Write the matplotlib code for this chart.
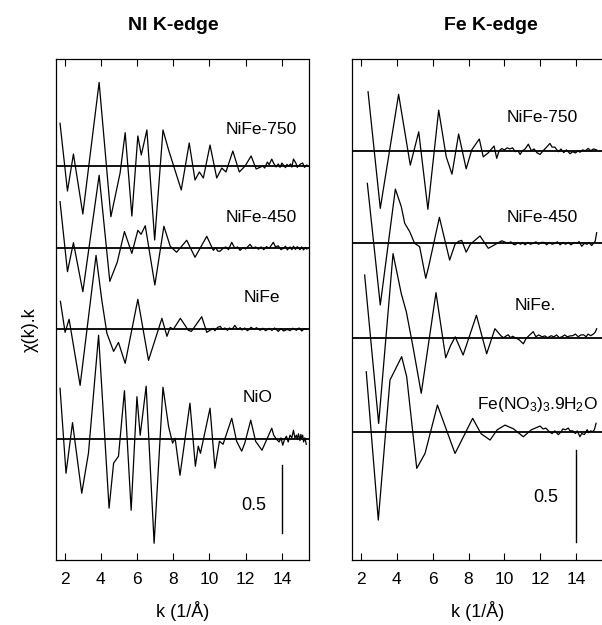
import matplotlib
matplotlib.use("Agg")
import matplotlib.pyplot as plt

plt.rcParams['font.family'] = ['Liberation Sans', 'DejaVu Sans']
plt.rcParams['mathtext.fontset'] = 'custom'
plt.rcParams['mathtext.rm'] = 'Liberation Sans'
plt.rcParams['mathtext.it'] = 'Liberation Sans:italic'

# ---------------- data: Ni K-edge (chi(k)*k, offset applied at plot time) -----
ni_labels = ["NiFe-750", "NiFe-450", "NiFe", "NiO"]
ni_offsets = [2.897, 2.292, 1.696, 0.888]

ni_k_750 = [1.74, 2.15, 2.48, 3.00, 3.90, 4.55, 5.06, 5.34, 5.71, 6.04, 6.23, 6.54, 6.97,
            7.43, 7.74, 8.02, 8.44, 8.88, 9.20, 9.44, 9.66, 10.03, 10.40, 10.68, 10.91,
            11.29, 11.65, 11.97, 12.30, 12.58, 12.95, 13.05, 13.20, 13.30, 13.44, 13.55,
            13.68, 13.80, 13.90, 14.00, 14.10, 14.20, 14.28, 14.37, 14.48, 14.55, 14.64,
            14.78, 14.85, 14.92, 15.03, 15.15, 15.25, 15.38]
ni_y_750 = [0.314, -0.184, 0.088, -0.353, 0.615, -0.373, -0.051, 0.245, -0.368, 0.221,
            0.081, 0.265, -0.544, 0.265, 0.118, 0.000, -0.176, 0.169, -0.103, -0.044,
            -0.088, 0.154, -0.088, -0.015, -0.044, 0.110, -0.044, 0.000, 0.074, -0.022,
            0.000, -0.015, 0.029, 0.010, 0.051, 0.020, -0.007, 0.015, -0.010, 0.022,
            0.005, -0.012, 0.012, 0.000, 0.015, -0.008, 0.051, 0.020, -0.010, 0.000,
            0.015, 0.022, -0.010, 0.007]

ni_k_450 = [1.74, 2.15, 2.48, 3.00, 3.90, 4.49, 4.90, 5.30, 5.71, 6.04, 6.22, 6.45, 6.98,
            7.48, 7.83, 8.18, 8.74, 9.20, 9.85, 10.21, 10.35, 10.45, 10.58, 10.75, 10.90,
            11.05, 11.23, 11.40, 11.55, 11.69, 11.85, 12.00, 12.24, 12.40, 12.55, 12.70,
            12.85, 13.00, 13.15, 13.30, 13.53, 13.65, 13.80, 13.95, 14.09, 14.20, 14.30,
            14.45, 14.55, 14.64, 14.75, 14.85, 15.00, 15.10, 15.20, 15.29, 15.38]
ni_y_450 = [0.343, -0.172, 0.041, -0.319, 0.537, -0.243, -0.103, 0.123, -0.037, 0.132,
            0.103, 0.166, -0.270, 0.162, 0.015, -0.029, 0.059, -0.066, 0.088, -0.015,
            0.005, -0.020, -0.022, 0.000, 0.010, -0.010, 0.044, 0.000, 0.010, -0.015,
            0.005, -0.005, 0.029, 0.000, 0.010, -0.007, 0.010, -0.010, 0.012, 0.000,
            0.044, 0.010, 0.018, -0.010, 0.000, 0.015, -0.012, 0.010, -0.010, 0.015,
            -0.008, 0.012, -0.010, 0.010, -0.012, 0.007, -0.005]

ni_k_nife = [1.76, 2.02, 2.24, 2.85, 3.73, 4.05, 4.33, 4.70, 4.97, 5.34, 6.04, 6.63, 7.37,
             7.65, 7.83, 8.00, 8.39, 8.83, 9.00, 9.57, 9.85, 10.05, 10.20, 10.30, 10.45,
             10.60, 10.70, 10.85, 11.00, 11.10, 11.25, 11.40, 11.55, 11.70, 11.80, 11.95,
             12.10, 12.30, 12.45, 12.60, 12.80, 12.95, 13.10, 13.30, 13.45, 13.60, 13.80,
             13.95, 14.10, 14.30, 14.45, 14.60, 14.80, 14.95, 15.10, 15.25, 15.35]
ni_y_nife = [0.206, -0.022, 0.074, -0.412, 0.544, 0.213, -0.029, -0.162, -0.096, -0.250,
             0.221, -0.228, 0.081, -0.051, 0.015, 0.000, 0.081, -0.007, -0.015, 0.093,
             -0.022, -0.005, 0.007, -0.010, 0.015, 0.022, 0.000, 0.010, -0.007, 0.010,
             0.000, 0.029, 0.000, 0.012, -0.005, 0.010, -0.010, 0.015, 0.000, 0.012,
             -0.007, 0.008, -0.010, 0.007, -0.008, 0.010, -0.015, 0.005, -0.012, 0.000,
             -0.010, 0.008, -0.007, 0.010, -0.012, 0.005, 0.000]

ni_k_nio = [1.74, 2.07, 2.43, 2.94, 3.31, 3.87, 4.45, 4.70, 4.97, 5.30, 5.67, 5.99, 6.17,
            6.50, 6.94, 7.43, 7.74, 7.96, 8.10, 8.37, 8.92, 9.22, 9.38, 9.50, 10.03, 10.30,
            10.55, 10.75, 11.23, 11.50, 11.78, 11.95, 12.28, 12.55, 12.90, 13.44, 13.55,
            13.70, 13.85, 13.95, 14.05, 14.15, 14.25, 14.35, 14.45, 14.55, 14.64, 14.72,
            14.80, 14.85, 14.92, 15.00, 15.05, 15.10, 15.15, 15.20, 15.27, 15.35]
ni_y_nio = [0.375, -0.250, 0.122, -0.397, -0.103, 0.765, -0.507, -0.176, -0.125, 0.357,
            -0.522, 0.313, 0.029, 0.390, -0.765, 0.382, 0.093, -0.029, 0.007, -0.265,
            0.265, -0.199, -0.051, -0.103, 0.228, -0.213, -0.015, -0.037, 0.154, -0.015,
            -0.088, -0.029, 0.140, -0.015, -0.081, 0.081, 0.030, 0.000, -0.020, 0.010,
            -0.044, 0.000, 0.022, -0.020, 0.030, 0.010, 0.066, 0.010, 0.030, 0.000,
            0.040, -0.010, 0.035, 0.000, 0.030, -0.020, 0.010, -0.037]

# ---------------- data: Fe K-edge -----------------------------------------------
fe_labels = ["NiFe-750", "NiFe-450", "NiFe.", "Fe(NO$_3$)$_3$.9H$_2$O"]
fe_offsets = [2.224, 1.721, 1.208, 0.697]

fe_k_750 = [2.41, 3.09, 4.11, 4.76, 5.23, 5.74, 6.34, 6.76, 7.08, 7.45, 7.87, 8.18, 8.60,
            8.82, 9.10, 9.42, 9.57, 9.70, 9.85, 10.00, 10.15, 10.30, 10.45, 10.60, 10.75,
            10.87, 11.00, 11.15, 11.33, 11.50, 11.65, 11.80, 11.98, 12.15, 12.30, 12.53,
            12.65, 12.80, 13.00, 13.15, 13.30, 13.45, 13.65, 13.80, 13.95, 14.10, 14.20,
            14.35, 14.50, 14.66, 14.80, 14.95, 15.13]
fe_y_750 = [0.321, -0.313, 0.307, -0.078, 0.103, -0.318, 0.221, -0.033, -0.127, 0.091,
            -0.098, 0.005, 0.064, -0.033, -0.011, 0.026, -0.041, 0.000, 0.012, 0.005,
            0.016, 0.010, 0.016, -0.005, 0.000, -0.020, 0.000, 0.010, 0.036, 0.000,
            0.010, -0.010, -0.020, 0.000, 0.015, 0.040, 0.020, 0.020, -0.005, 0.010,
            -0.010, 0.005, -0.016, -0.005, -0.012, 0.000, -0.008, 0.005, 0.000, 0.013,
            0.000, 0.010, 0.005]

fe_k_450 = [2.37, 3.09, 3.93, 4.26, 4.45, 4.73, 5.00, 5.28, 5.62, 5.78, 6.38, 6.95, 7.25,
            7.45, 7.62, 7.87, 8.10, 8.64, 9.10, 9.40, 9.85, 10.20, 10.35, 10.50, 10.60,
            10.75, 10.90, 11.00, 11.15, 11.30, 11.45, 11.60, 11.75, 11.90, 12.05, 12.20,
            12.35, 12.50, 12.65, 12.80, 12.95, 13.10, 13.25, 13.40, 13.55, 13.70, 13.90,
            14.05, 14.15, 14.30, 14.45, 14.60, 14.70, 14.85, 14.95, 15.05, 15.13]
fe_y_450 = [0.326, -0.335, 0.295, 0.199, 0.109, 0.063, 0.000, -0.018, -0.190, -0.127,
            0.141, -0.091, -0.005, 0.011, 0.016, -0.048, -0.005, 0.040, -0.027, -0.011,
            0.014, 0.000, 0.008, -0.005, -0.008, 0.005, -0.005, 0.005, -0.008, 0.005,
            -0.005, 0.000, 0.008, -0.005, 0.005, 0.005, -0.008, 0.005, -0.005, 0.000,
            0.008, -0.008, 0.005, -0.005, 0.005, -0.008, 0.005, 0.000, 0.010, -0.016,
            0.000, -0.005, 0.005, -0.012, 0.000, 0.012, 0.058]

fe_k_nife = [2.22, 3.00, 3.80, 4.26, 4.54, 4.91, 5.37, 6.19, 6.73, 7.00, 7.26, 7.70, 8.44,
             9.01, 9.47, 9.80, 9.95, 10.10, 10.20, 10.35, 10.45, 10.60, 10.80, 11.05,
             11.20, 11.35, 11.60, 11.75, 11.90, 12.10, 12.25, 12.40, 12.60, 12.75, 12.90,
             13.05, 13.20, 13.35, 13.50, 13.65, 13.80, 13.95, 14.10, 14.25, 14.40, 14.55,
             14.65, 14.80, 14.95, 15.05, 15.13]
fe_y_nife = [0.341, -0.466, 0.457, 0.239, 0.141, -0.049, -0.302, 0.245, -0.109, -0.043,
             0.005, -0.094, 0.122, -0.087, 0.049, 0.011, 0.000, 0.010, 0.016, 0.000,
             0.008, 0.000, -0.010, -0.033, -0.005, 0.010, 0.033, 0.005, 0.015, 0.005,
             0.010, 0.000, 0.011, 0.005, 0.015, 0.000, 0.005, 0.015, 0.005, 0.010,
             0.011, 0.020, 0.005, 0.015, 0.016, 0.005, 0.020, 0.011, 0.020, 0.030, 0.049]

fe_k_ref = [2.31, 2.98, 3.63, 4.28, 4.56, 5.12, 5.58, 6.27, 7.25, 8.23, 8.70, 9.20, 9.60,
            10.03, 10.50, 11.05, 11.50, 11.98, 12.15, 12.30, 12.50, 12.65, 12.80, 13.00,
            13.15, 13.25, 13.40, 13.55, 13.65, 13.80, 13.95, 14.05, 14.20, 14.30, 14.45,
            14.60, 14.70, 14.80, 14.90, 15.00, 15.10]
fe_y_ref = [0.326, -0.480, 0.281, 0.408, 0.299, -0.199, -0.118, 0.145, -0.118, 0.073,
            -0.011, -0.045, 0.011, 0.036, 0.016, -0.027, 0.011, 0.031, 0.015, 0.020,
            0.000, -0.010, 0.005, -0.016, 0.000, 0.015, 0.011, 0.020, 0.005, 0.005,
            -0.010, 0.005, -0.027, -0.010, -0.015, 0.011, -0.005, 0.005, 0.000, 0.010,
            0.046]

x_ticks = [2, 4, 6, 8, 10, 12, 14]
scale_bar = 0.5

# ---------------- figure -------------------------------------------------------
W, H = 602, 625
fig = plt.figure(figsize=(W / 100, H / 100), dpi=100)


def px_axes(x0, x1, y0, y1):
    return fig.add_axes([x0 / W, 1 - y1 / H, (x1 - x0) / W, (y1 - y0) / H])


ax1 = px_axes(55.7, 309.0, 59, 560)
ax2 = px_axes(351.7, 603.3, 59, 560)

ni_series = [(ni_k_750, ni_y_750), (ni_k_450, ni_y_450), (ni_k_nife, ni_y_nife),
             (ni_k_nio, ni_y_nio)]
fe_series = [(fe_k_750, fe_y_750), (fe_k_450, fe_y_450), (fe_k_nife, fe_y_nife),
             (fe_k_ref, fe_y_ref)]

panels = [
    (ax1, ni_series, ni_offsets, 501 / 136, (0.199, 0.199 + scale_bar), 13.15, 0.404),
    (ax2, fe_series, fe_offsets, 501 / 184, (0.098, 0.098 + scale_bar), 13.0, 0.337),
]
label_py = {ax1: [130, 218, 298, 398], ax2: [118, 218, 305, 405]}
label_px = {ax1: [261.5, 261.5, 262, 258], ax2: [542, 542, 535, 537]}

for ax, series, offs, ytop, bar, bar_lab_x, bar_lab_y in panels:
    ax.set_xlim(1.5, 15.5)
    ax.set_ylim(0, ytop)
    for (k, y), off in zip(series, offs):
        ax.axhline(off, color='black', lw=1.3, zorder=1)
        ax.plot(k, [v + off for v in y], color='black', lw=0.9, zorder=2)
    ax.set_xticks(x_ticks)
    ax.set_yticks([])
    ax.tick_params(axis='x', direction='in', top=True, bottom=True, length=5,
                   width=0.8, labelsize=12.5, pad=9)
    for s in ax.spines.values():
        s.set_linewidth(0.9)
    ax.set_xlabel("k (1/Å)", fontsize=13, labelpad=10)
    # scale bar
    ax.plot([14, 14], list(bar), color='black', lw=1.0)
    ax.text(bar_lab_x, bar_lab_y, "0.5", fontsize=13, ha='right', va='center')

for ax in (ax1, ax2):
    labels = ni_labels if ax is ax1 else fe_labels
    for lab, px, py in zip(labels, label_px[ax], label_py[ax]):
        fig.text(px / W, 1 - py / H, lab, fontsize=12.5, ha='center', va='center')

fig.text(173 / W, 1 - 25 / H, "NI K-edge", fontsize=14, fontweight='bold',
         ha='center', va='center')
fig.text(491 / W, 1 - 25 / H, "Fe K-edge", fontsize=14, fontweight='bold',
         ha='center', va='center')
fig.text(30 / W, 1 - 330 / H, "χ(k).k", fontsize=13, rotation=90,
         ha='center', va='center')

fig.savefig("out.png", dpi=100)
